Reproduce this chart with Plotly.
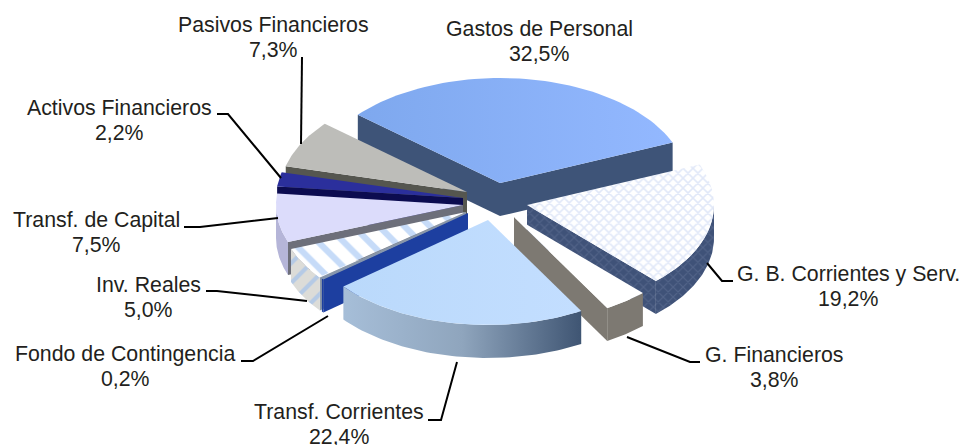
import numpy as np
import plotly.graph_objects as go

# ================= data =================
CATEGORIES = ["Gastos de Personal", "G. B. Corrientes y Serv.", "G. Financieros",
              "Transf. Corrientes", "Fondo de Contingencia", "Inv. Reales",
              "Transf. de Capital", "Activos Financieros", "Pasivos Financieros"]
VALUES = [32.5, 19.2, 3.8, 22.4, 0.2, 5.0, 7.5, 2.2, 7.3]

# ================= look of the pie =================
START_ANGLE = -49.5  # clockwise from 12 o'clock
RX, RY, DEPTH = 187, 105, 33
# where each exploded slice has its tip
TIP_X = [500, 527, 514, 488, 468, 466, 463, 463, 467]
TIP_Y = [183, 205, 217, 220, 213, 212, 205, 198, 192]
TOP_COLORS = ["#8ab2fa", "#ffffff", "#ffffff", "#bedbfd", "#8095b8", "#ffffff", "#dcdcfb", "#2b2f9c", "#bdbdb9"]
WALL_COLORS = ["#3e5478", "#4a5f85", "#7d7972", "#5d7590", "#1d3fa0", "#8a97a8", "#6d6f7a", "#0c0c50", "#55564f"]
RIM_COLORS = ["#3e5478", "#4a5f85", "#7d7972", "#8aa0b8", "#1d3fa0", "#dcdcd8", "#b5b5d8", "#0c0c50", "#8f8f8b"]
# back to front
DRAW_ORDER = [0, 1, 8, 7, 6, 5, 2, 4, 3]

TOP_PATTERNS = {
    1: dict(shape="x", fgcolor="#c4d2f2", bgcolor="#ffffff", size=7, solidity=0.4),
    5: dict(shape="\\", fgcolor="#8db8f2", bgcolor="#ffffff", size=18, solidity=0.35),
}
RIM_PATTERNS = {
    1: dict(shape="x", fgcolor="#66779a", bgcolor="#3f5278", size=7, solidity=0.3),
    5: dict(shape="/", fgcolor="#8db8f2", bgcolor="#dcdcd8", size=14, solidity=0.3),
}
GRADIENTS = {
    0: ["#7ea8ee", "#93b8ff"],
    3: ["#bad9fb", "#c3deff"],
}
RIM_GRADIENTS = {
    3: ["#a6bed8", "#8fa5bd", "#3f5573"],
}

# ================= labels =================
LABEL_X = [539, 848, 774, 339, 125, 148, 96, 119, 273]
LABEL_Y = [29, 274, 355, 412, 354, 285, 220, 108, 25]
LINE_GAP = 25
FONT_SIZE = 21.3
LEADERS = [
    "M302,57 L301,144",
    "M217,114 L228,114 L281,178",
    "M184,227 L200,227 L278,218",
    "M206,291 L217,291 L307,301",
    "M241,361 L253,361 L328,316",
    "M428,420 L441,420 L457,362",
    "M627,337 L690,362 L700,362",
    "M707,263 L722,281 L733,281",
]

WIDTH, HEIGHT = 962, 445


def arc(tip_x, tip_y, a0, a1, drop=0):
    t = np.radians(np.linspace(a0, a1, 60))
    return tip_x + RX * np.sin(t), tip_y - RY * np.cos(t) + drop


def add_poly(fig, xs, ys, color, pattern=None, gradient=None):
    kw = {}
    if pattern:
        kw["fillpattern"] = pattern
    if gradient:
        stops = np.linspace(0, 1, len(gradient))
        kw["fillgradient"] = dict(type="horizontal", colorscale=[[float(s), c] for s, c in zip(stops, gradient)])
    fig.add_trace(go.Scatter(x=xs, y=ys, mode="lines", fill="toself", fillcolor=color,
                             line=dict(width=0), hoverinfo="skip", showlegend=False, **kw))


def add_slice(fig, i, a0, a1):
    x0, y0 = TIP_X[i], TIP_Y[i]
    # the flat walls that face the viewer
    for a, visible in ((a0, 180 <= a0 % 360 < 360), (a1, 0 < a1 % 360 <= 180)):
        if visible:
            ex, ey = arc(x0, y0, a, a)
            ex, ey = ex[0], ey[0]
            add_poly(fig, [x0, ex, ex, x0], [y0, ey, ey + DEPTH, y0 + DEPTH], WALL_COLORS[i],
                     pattern=RIM_PATTERNS.get(i) if i == 1 else None)
    # the curved rim, only on the near half
    r0, r1 = max(a0, 90), min(a1, 270)
    if r0 < r1:
        xa, ya = arc(x0, y0, r0, r1)
        xb, yb = arc(x0, y0, r1, r0, DEPTH)
        add_poly(fig, np.r_[xa, xb], np.r_[ya, yb], RIM_COLORS[i],
                 pattern=RIM_PATTERNS.get(i), gradient=RIM_GRADIENTS.get(i))
    # top face
    xa, ya = arc(x0, y0, a0, a1)
    add_poly(fig, np.r_[x0, xa, x0], np.r_[y0, ya, y0], TOP_COLORS[i],
             pattern=TOP_PATTERNS.get(i), gradient=GRADIENTS.get(i))


def main():
    shares = np.array(VALUES) / sum(VALUES) * 360
    edges = START_ANGLE + np.r_[0, np.cumsum(shares)]

    fig = go.Figure()
    for i in DRAW_ORDER:
        add_slice(fig, i, edges[i], edges[i + 1])

    font = dict(family="Liberation Sans", size=FONT_SIZE, color="#231f20")
    for name, val, x, y in zip(CATEGORIES, VALUES, LABEL_X, LABEL_Y):
        pct = str(val).replace(".", ",") + "%"
        fig.add_annotation(x=x, y=y, text=name, showarrow=False, font=font)
        fig.add_annotation(x=x, y=y + LINE_GAP, text=pct, showarrow=False, font=font)
    for path in LEADERS:
        fig.add_shape(type="path", path=path, xref="x", yref="y", line=dict(color="#000000", width=2))

    fig.update_layout(width=WIDTH, height=HEIGHT, margin=dict(l=0, r=0, t=0, b=0),
                      paper_bgcolor="#ffffff", plot_bgcolor="#ffffff", showlegend=False)
    fig.update_xaxes(range=[0, WIDTH], visible=False, fixedrange=True)
    fig.update_yaxes(range=[HEIGHT, 0], visible=False, fixedrange=True)
    # drop the browser's default body margin so the figure fills the window
    fig.write_html("out.html", config={"displayModeBar": False},
                   post_script="document.body.style.margin='0';document.body.style.overflow='hidden';")


if __name__ == "__main__":
    main()
